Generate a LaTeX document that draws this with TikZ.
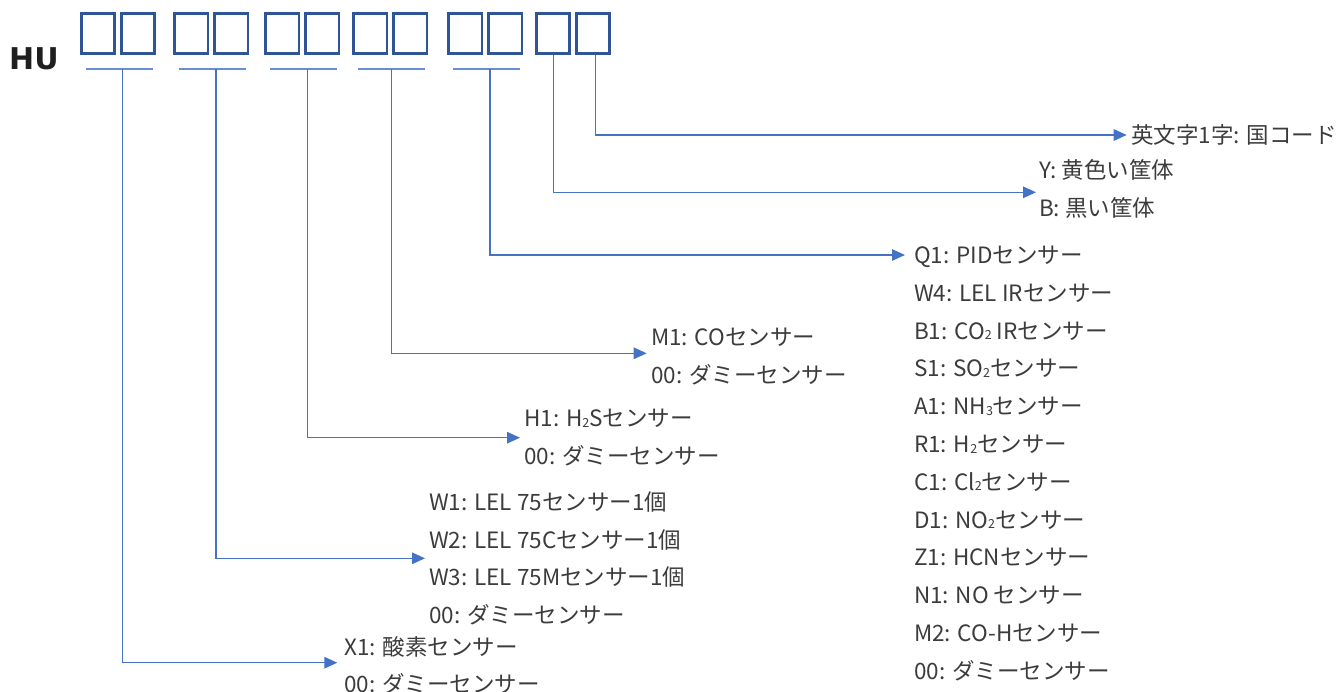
\documentclass[tikz,border=0pt]{standalone}
\usepackage{fontspec}
\newfontfamily\jp{Noto Sans CJK JP}
\newfontfamily\hufont{DejaVu Sans}
\usetikzlibrary{arrows.meta}
\definecolor{boxblue}{HTML}{2F5597}
\definecolor{connblue}{HTML}{4472C4}
\definecolor{ulblue}{HTML}{6A8ED4}
\definecolor{txtgray}{HTML}{3C3C3C}
\newcommand\sbs[1]{\raisebox{-0.5pt}{\fontsize{12.5}{12.5}\selectfont #1}}
\tikzset{
  codebox/.style={draw=boxblue, line width=2.7pt, minimum width=33.3pt, minimum height=40.3pt, inner sep=0pt},
  uline/.style={draw=ulblue, line width=1.5pt},
  conn/.style={draw=connblue, line width=1.3pt, -{Triangle[length=13pt,width=11.5pt]}},
  lbl/.style={anchor=base west, inner sep=0pt, text=txtgray, font=\jp\fontsize{22.5}{24}\selectfont},
}
\begin{document}
\begin{tikzpicture}[x=1pt,y=-1pt]
\useasboundingbox (0,0) rectangle (1341,692);
% HU
\node[anchor=base west, inner sep=0pt, text=black!88, font=\hufont\bfseries\fontsize{30}{30}\selectfont] (hu) at (9,70) {HU};
% boxes
\foreach \p [count=\i] in {80,173.3,264.3,352.3,447.3,535}{
  \pgfmathsetmacro\ca{\p+18}
  \pgfmathsetmacro\cb{\p+58}
  \node[codebox] (a\i) at (\ca,33.7) {};
  \node[codebox] (b\i) at (\cb,33.7) {};
}
% underlines
\foreach \p [count=\i] in {80,173.3,264.3,352.3,447.3}{
  \pgfmathsetmacro\ua{\p+5.5}
  \pgfmathsetmacro\ub{\p+73}
  \coordinate (ul\i a) at (\ua,69);
  \coordinate (ul\i b) at (\ub,69);
  \draw[uline] (ul\i a) -- (ul\i b);
}
% connector start points
\coordinate (s1) at (122.7,69);
\coordinate (s2) at (216,69);
\coordinate (s3) at (307.3,69);
\coordinate (s4) at (391.7,69);
\coordinate (s5) at (490,69);
\coordinate (s6) at (553.3,55.5);
\coordinate (s7) at (595.3,55.5);
% arrow tips
\coordinate (t1) at (337.3,662.7);
\coordinate (t2) at (425,558.3);
\coordinate (t3) at (520,437.7);
\coordinate (t4) at (646.7,353.3);
\coordinate (t5) at (905,255);
\coordinate (t6) at (1036,192.3);
\coordinate (t7) at (1126.7,135);
\draw[conn] (s1) |- (t1);
\draw[conn] (s2) |- (t2);
\draw[conn] (s3) |- (t3);
\draw[conn] (s4) |- (t4);
\draw[conn] (s5) |- (t5);
\draw[conn] (s6) |- (t6);
\draw[conn] (s7) |- (t7);
% labels
\node[lbl] (cc) at (1131,143.5) {英文字1字: 国コード};
\node[lbl] (ky) at (1039,178.5) {Y: 黄色い筐体};
\node[lbl] (kb) at (1039,216.8) {B: 黒い筐体};
\foreach \t [count=\i from 0] in {
  {Q1: PIDセンサー},
  {W4: LEL IRセンサー},
  {B1: CO\sbs{2} IRセンサー},
  {S1: SO\sbs{2}センサー},
  {A1: NH\sbs{3}センサー},
  {R1: H\sbs{2}センサー},
  {C1: Cl\sbs{2}センサー},
  {D1: NO\sbs{2}センサー},
  {Z1: HCNセンサー},
  {N1: NO センサー},
  {M2: CO-Hセンサー},
  {00: ダミーセンサー}}{
  \pgfmathsetmacro\yy{263.5+37.8*\i}
  \node[lbl] (g\i) at (914,\yy) {\t};
}
\node[lbl] (m1) at (651,345.2) {M1: COセンサー};
\node[lbl] (m0) at (651,383.5) {00: ダミーセンサー};
\node[lbl] (h1) at (524,426.8) {H1: H\sbs{2}Sセンサー};
\node[lbl] (h0) at (524,464.2) {00: ダミーセンサー};
\node[lbl] (w1) at (429,510.2) {W1: LEL 75センサー1個};
\node[lbl] (w2) at (429,548) {W2: LEL 75Cセンサー1個};
\node[lbl] (w3) at (429,585.8) {W3: LEL 75Mセンサー1個};
\node[lbl] (w0) at (429,623.6) {00: ダミーセンサー};
\node[lbl] (x1) at (344,655.2) {X1: 酸素センサー};
\node[lbl] (x0) at (344,692.5) {00: ダミーセンサー};
\end{tikzpicture}
\end{document}
